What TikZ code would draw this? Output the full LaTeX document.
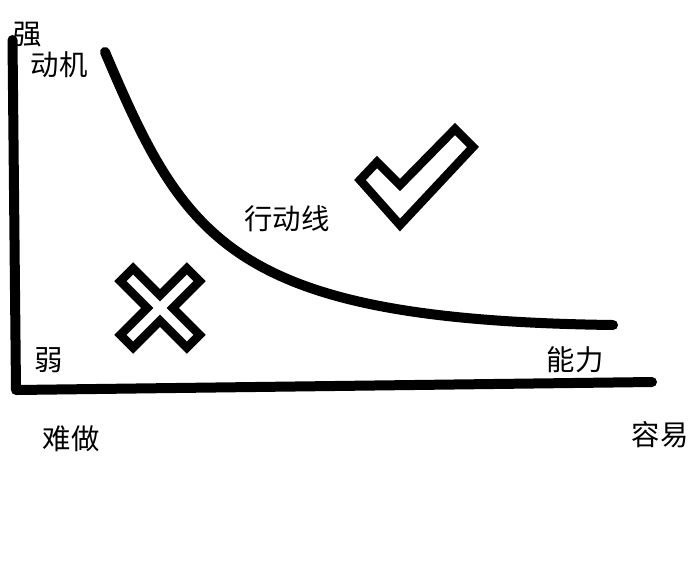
\documentclass[tikz,border=0pt]{standalone}
\usepackage{fontspec}
\setmainfont{Noto Sans CJK SC}
\usetikzlibrary{positioning}
\tikzset{label text/.style={inner sep=0pt, font=\fontsize{14.2}{17}\selectfont}}

\begin{document}
\begin{tikzpicture}[x=0.5pt, y=-0.5pt, line cap=round, every path/.style={black}, thick line/.style={line width=5pt, line join=round}, mark line/.style={line width=4.3pt, line join=miter}]
\useasboundingbox (0,0) rectangle (696,564);
\coordinate (ytop) at (12.5,40);
\coordinate (orig) at (16,390);
\coordinate (xend) at (652,382);
\coordinate (lstart) at (105,52);
\coordinate (lend) at (613,325);
\node[label text] (strong) at (28,35) {强};
\node[label text] (motive) at (59,65) {动机};
\node[label text] (actline) at (287,219) {行动线};
\node[label text] (weak) at (49,360) {弱};
\node[label text] (hard) at (71,439) {难做};
\node[label text] (ability) at (575,360) {能力};
\node[label text] (easy) at (660,435) {容易};
\draw [thick line] (ytop) -- (orig) -- (xend);
\draw [thick line] (lstart) .. controls (185,240) and (230,320) .. (lend);
\draw [mark line] (360,180) -- (377,162) -- (400,185) -- (455,129) -- (473,147) -- (400,225) -- cycle;
\begin{scope}[shift={(160,308)}, rotate=45]
\draw [mark line] (9,9) -- (47,9) -- (47,-9) -- (9,-9) -- (9,-47) -- (-9,-47) -- (-9,-9) -- (-47,-9) -- (-47,9) -- (-9,9) -- (-9,47) -- (9,47) -- cycle;
\end{scope}
\end{tikzpicture}
\end{document}
